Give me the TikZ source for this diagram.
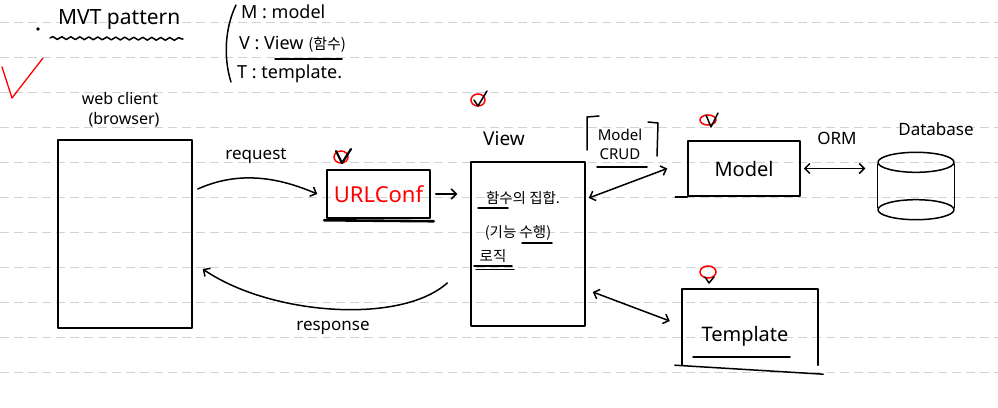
\documentclass[tikz,border=0pt]{standalone}
\usepackage{fontspec}
\setmainfont{Noto Sans}
\newfontfamily\cjk{Noto Sans CJK KR}
\usetikzlibrary{arrows.meta,decorations.pathmorphing}
\tikzset{
  ink/.style={line width=1.5pt, black, line cap=round, line join=round},
  box/.style={ink, draw, rectangle, inner sep=0pt},
  lbl/.style={inner sep=1pt, font=\fontsize{16}{19}\selectfont},
  big/.style={inner sep=1pt, font=\fontsize{20}{24}\selectfont},
  kor/.style={inner sep=1pt, font=\cjk\fontsize{14.5}{17}\selectfont},
  arr/.style={ink, -{Straight Barb[length=5pt,width=10pt]}},
  darr/.style={ink, {Straight Barb[length=5pt,width=10pt]}-{Straight Barb[length=5pt,width=10pt]}},
  rule/.style={gray!35, line width=0.8pt, dash pattern=on 9pt off 5pt},
  redring/.style={red, line width=1.5pt},
}
\begin{document}
\begin{tikzpicture}[x=1pt,y=-1pt]
\useasboundingbox (0,0) rectangle (998,407);
\fill[white] (0,0) rectangle (998,407);
\foreach \k in {0,...,10} \draw[rule] (0,22.7+35*\k) -- (998,22.7+35*\k);

% title
\fill (38,29) circle (1.8pt);
\node[inner sep=1pt, font=\fontsize{21}{25}\selectfont, anchor=west] (title) at (57,20) {MVT pattern};
\draw[ink, decorate, decoration={snake, amplitude=1.4pt, segment length=9pt}] (50,38) -- (183,39);

% bracket list
\draw[ink] (236,5) .. controls (224,30) and (224,60) .. (231,82);
\node[lbl, anchor=west, font=\fontsize{18}{21}\selectfont] (mline) at (240,12) {M : model};
\node[lbl, anchor=west, font=\fontsize{18}{21}\selectfont] (vline) at (238,44) {V : View {\cjk\fontsize{15}{17}\selectfont (함수)}};
\draw[ink] (275,59) -- (342,59);
\node[lbl, anchor=west, font=\fontsize{18}{21}\selectfont] (tline) at (236,74) {T : template.};

% red check
\draw[red, line width=1.3pt, line cap=round, line join=round] (2,67) -- (12,98) -- (43,58);

% web client
\node[lbl] (wc) at (120,98) {web client};
\node[lbl] (br) at (124,120) {(browser)};
\node[box, minimum width=134pt, minimum height=188pt] (client) at (125,234) {};

% URLConf
\node[box, minimum width=103pt, minimum height=48pt, text=red, font=\fontsize{22}{26}\selectfont] (url) at (378.5,194) {URLConf};
\draw[ink, line width=2.6pt] ([xshift=-2pt,yshift=-1.5pt]url.south west) -- ([xshift=3pt,yshift=-2.5pt]url.south east);
\draw[redring] (341,157) ellipse [x radius=7pt, y radius=6pt];
\draw[ink, line width=2.2pt] (336,151) -- (342,163) -- (351,149);

% View
\node[box, minimum width=114pt, minimum height=164pt] (view) at (528,244) {};
\node[big, font=\fontsize{19}{22}\selectfont] (viewlbl) at (504,139) {View};
\draw[redring] (478,100) ellipse [x radius=7pt, y radius=6pt];
\draw[ink] (474,100) -- (478,106) -- (487,91);
\draw[arr, shorten <=5pt, shorten >=13pt] (url.east) -- (url.east -| view.west);
\node[kor] (v1) at (523,198) {함수의 집합.};
\draw[ink] (478,208) -- (508,208);
\node[kor] (v2) at (518,233) {(기능 수행)};
\draw[ink] (522,243) -- (552,243);
\node[kor] (v3) at (493,256) {로직};
\draw[ink] (474,266) -- (512,266);
\draw[ink] (476,269.5) -- (514,269.5);

% request / response
\node[lbl, font=\fontsize{17}{20}\selectfont] (req) at (256,156) {request};
\draw[arr] ([xshift=5pt,yshift=45pt]client.east) .. controls (240,170) and (280,178) .. ([xshift=-9pt]url.west);
\node[lbl, font=\fontsize{17}{20}\selectfont] (resp) at (333,328) {response};
\draw[arr] ([xshift=-23pt,yshift=-39pt]view.west) .. controls (400,325) and (270,315) .. ([xshift=10pt,yshift=-35pt]client.east);

% Model CRUD
\node[lbl, align=center, inner sep=2pt, font=\fontsize{15}{18}\selectfont] (crud) at (620,144) {Model\\[1pt]CRUD};
\draw[ink] (599,116) -- (587,117) -- (587,150);
\draw[ink] (648,122) -- (658,123) -- (657,156);
\draw[ink] (597,167) -- (647,167);

% Model
\node[box, minimum width=112pt, minimum height=55pt, font=\fontsize{20}{24}\selectfont] (model) at (744,168.5) {Model};
\draw[ink] ([xshift=-12pt]model.south west) -- (model.south west);
\draw[redring] (708,120) ellipse [x radius=8pt, y radius=5pt];
\draw[ink] (706,115) -- (711,127) -- (718,113);
\draw[darr] ([xshift=3pt,yshift=46pt]view.east) -- ([xshift=-20pt]model.west);

% Database
\node[minimum width=77pt, minimum height=67pt, inner sep=0pt] (db) at (916,186) {};
\draw[ink] ([yshift=-10pt]db.north) ellipse [x radius=38pt, y radius=10pt];
\draw[ink] ([yshift=10pt]db.south) ellipse [x radius=38pt, y radius=10pt];
\draw[ink] ([yshift=-12pt]db.north west) -- ([yshift=12pt]db.south west);
\draw[ink] ([yshift=-12pt]db.north east) -- ([yshift=12pt]db.south east);
\node[lbl, font=\fontsize{17}{20}\selectfont] (dblbl) at (936,129) {Database};
\node[lbl, font=\fontsize{17}{20}\selectfont] (orm) at (837,138) {ORM};
\draw[darr, shorten <=3pt, shorten >=12pt] (model.east) -- (model.east -| db.west);

% Template
\node[minimum width=136pt, minimum height=76pt, inner sep=0pt] (tmpl) at (750,327) {};
\draw[ink] (tmpl.south west) -- (tmpl.north west) -- (tmpl.north east) -- (tmpl.south east);
\draw[ink] ([xshift=-7pt]tmpl.south west) -- ([xshift=5pt,yshift=-9pt]tmpl.south east);
\node[big] (tmpltext) at (745,336) {Template};
\draw[ink] (693,357) -- (790,357);
\draw[redring] (708,272) ellipse [x radius=8pt, y radius=6pt];
\draw[ink] (705,277) -- (709,283) -- (714,277);
\draw[darr] ([xshift=7pt,yshift=-48pt]view.east) -- ([xshift=-12pt,yshift=6pt]tmpl.west);
\end{tikzpicture}
\end{document}
